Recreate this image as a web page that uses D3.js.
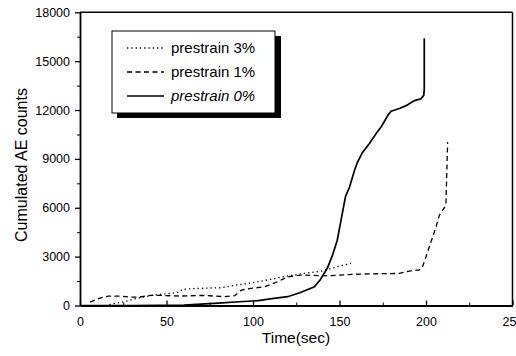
<!DOCTYPE html>
<html>
<head>
<meta charset="utf-8">
<script src="https://cdn.jsdelivr.net/npm/d3@7"></script>
<style>
  body { margin: 0; background: #fff; }
  svg { display: block; font-family: "Liberation Sans", Arial, sans-serif; }
  .axis path, .axis line { stroke: #000; }
  .axis text { font-size: 12.5px; fill: #000; }
</style>
</head>
<body>
<svg id="chart" width="516" height="356"></svg>
<script>
// time (sec) / cumulated AE counts
var time3 = [17, 19, 24.8, 30.6, 36.3, 44.4, 50.2, 56, 59.4, 65.2, 73.3, 81.9, 91.5, 101, 110.8, 120, 129.8, 139.6, 148.8, 156.7];
var counts3 = [50, 110, 210, 380, 520, 660, 720, 780, 990, 1030, 1070, 1090, 1270, 1420, 1620, 1820, 1970, 2110, 2380, 2580];

var time1 = [5.8, 11.5, 16.2, 23, 28.8, 34.6, 40.4, 46.2, 57.7, 71, 83.7, 89.4, 93.3, 99, 106.7, 114.2, 120, 127.9, 143, 161.5, 184.6, 188.5, 193.3, 196, 198, 200, 202.9, 205.8, 207.7, 211.5, 212.5];
var counts1 = [210, 460, 580, 580, 520, 520, 620, 620, 580, 620, 540, 600, 950, 1050, 1150, 1460, 1760, 1870, 1820, 1930, 1970, 2070, 2170, 2170, 2380, 2990, 3910, 4820, 5540, 6150, 10030];

var time0 = [0, 30, 60, 70, 80, 92, 103, 111, 120, 127, 131, 135.5, 139, 143, 146, 148.7, 151, 153.5, 155.8, 158.7, 160.4, 163.3, 167.3, 171.2, 174, 177.9, 179.8, 184.6, 188.5, 193.3, 197.1, 198.7, 199, 199];
var counts0 = [0, 0, 30, 80, 150, 230, 300, 420, 540, 780, 950, 1150, 1600, 2300, 3100, 4010, 5300, 6700, 7270, 8300, 8800, 9400, 9950, 10560, 10950, 11660, 11930, 12090, 12270, 12580, 12690, 12900, 13300, 16400];

var seriesNames = ["prestrain 3%", "prestrain 1%", "prestrain 0%"];
var xTicks = [0, 50, 100, 150, 200, 250];
var yTicks = [0, 3000, 6000, 9000, 12000, 15000, 18000];

var svg = d3.select("#chart");

var x = d3.scaleLinear().domain([0, 250]).range([80, 512.5]);
var y = d3.scaleLinear().domain([0, 18000]).range([305.5, 12.3]);

var series = [
  { name: seriesNames[0], pts: d3.zip(time3, counts3), dash: "1.3,3", width: 1.3, italic: false },
  { name: seriesNames[1], pts: d3.zip(time1, counts1), dash: "5,3.5", width: 1.3, italic: false },
  { name: seriesNames[2], pts: d3.zip(time0, counts0), dash: null, width: 1.7, italic: true }
];

// frame top / right
svg.append("line").attr("x1", x(0)).attr("x2", x(250)).attr("y1", y(18000)).attr("y2", y(18000))
  .attr("stroke", "#000").attr("stroke-width", 1.5);
svg.append("line").attr("x1", x(250)).attr("x2", x(250)).attr("y1", y(18000)).attr("y2", y(0))
  .attr("stroke", "#000").attr("stroke-width", 1.5);

// minor ticks
svg.append("g").attr("class", "axis")
  .attr("transform", "translate(" + x(0) + ",0)")
  .call(d3.axisLeft(y).tickValues(d3.range(1500, 18000, 3000)).tickSize(3).tickFormat(""))
  .call(g => g.select(".domain").remove());
svg.append("g").attr("class", "axis")
  .attr("transform", "translate(0," + y(0) + ")")
  .call(d3.axisBottom(x).tickValues(d3.range(25, 250, 50)).tickSize(-3).tickFormat(""))
  .call(g => g.select(".domain").remove());

// major axes
svg.append("g").attr("class", "axis")
  .attr("transform", "translate(" + x(0) + ",0)")
  .call(d3.axisLeft(y).tickValues(yTicks).tickSize(5).tickSizeOuter(0).tickPadding(5).tickFormat(d3.format("d")))
  .call(g => g.select(".domain").attr("stroke-width", 1.8))
  .call(g => g.selectAll(".tick line").attr("stroke-width", 1.3));

svg.append("g").attr("class", "axis")
  .attr("transform", "translate(0," + y(0) + ")")
  .call(d3.axisBottom(x).tickValues(xTicks).tickSize(-5).tickSizeOuter(0).tickPadding(12))
  .call(g => g.select(".domain").attr("stroke-width", 1.8))
  .call(g => g.selectAll(".tick line").attr("stroke-width", 1.3));

// axis titles
svg.append("text")
  .attr("x", 296).attr("y", 343)
  .attr("text-anchor", "middle")
  .style("font-size", "15.5px")
  .text("Time(sec)");

svg.append("text")
  .attr("transform", "translate(27,165) rotate(-90)")
  .attr("text-anchor", "middle")
  .style("font-size", "16px")
  .text("Cumulated AE counts");

// curves
var line = d3.line().x(d => x(d[0])).y(d => y(d[1]));

svg.selectAll(".curve")
  .data(series)
  .enter().append("path")
  .attr("class", "curve")
  .attr("d", d => line(d.pts))
  .attr("fill", "none")
  .attr("stroke", "#000")
  .attr("stroke-width", d => d.width)
  .attr("stroke-dasharray", d => d.dash);

// legend
var legend = svg.append("g");
legend.append("rect")
  .attr("x", 117).attr("y", 36).attr("width", 164).attr("height", 82)
  .attr("fill", "#000");
legend.append("rect")
  .attr("x", 112).attr("y", 31).attr("width", 163).attr("height", 82)
  .attr("fill", "#fff").attr("stroke", "#000").attr("stroke-width", 1);

var items = legend.selectAll(".item")
  .data(series)
  .enter().append("g")
  .attr("class", "item")
  .attr("transform", (d, i) => "translate(0," + (48 + i * 24) + ")");

items.append("line")
  .attr("x1", 127).attr("x2", 164)
  .attr("stroke", "#000")
  .attr("stroke-width", d => d.width)
  .attr("stroke-dasharray", d => d.dash);

items.append("text")
  .attr("x", 171).attr("dy", "0.35em")
  .style("font-size", "15px")
  .style("font-style", d => d.italic ? "italic" : "normal")
  .text(d => d.name);
</script>
</body>
</html>
